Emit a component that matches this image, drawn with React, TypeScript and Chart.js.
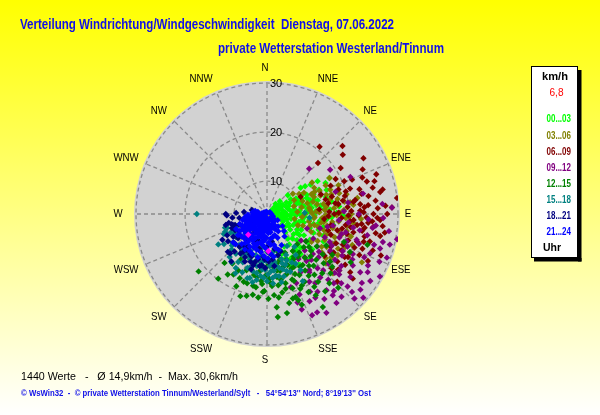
import React, { useEffect, useRef } from 'react';
import { Chart, registerables } from 'chart.js';

Chart.register(...registerables);

// ---------- texts ----------
const TITLE = 'Verteilung Windrichtung/Windgeschwindigkeit  Dienstag, 07.06.2022';
const SUBTITLE = 'private Wetterstation Westerland/Tinnum';
const FOOTER_STATS = '1440 Werte   -   Ø 14,9km/h  -  Max. 30,6km/h';
const FOOTER_COPY = "© WsWin32  -  © private Wetterstation Tinnum/Westerland/Sylt   -   54°54'13'' Nord; 8°19'13'' Ost";
const DIRECTIONS = ['N', 'NNE', 'NE', 'ENE', 'E', 'ESE', 'SE', 'SSE', 'S', 'SSW', 'SW', 'WSW', 'W', 'WNW', 'NW', 'NNW'];
const RING_TICKS = [10, 20, 30];
const SPEED_MIN = 3.3;
const SPEED_MAX = 30;
const LEGEND_UNIT = 'km/h';
const LEGEND_VALUE = '6,8';
const LEGEND_FOOT = 'Uhr';
const HOUR_LABELS = ['00...03', '03...06', '06...09', '09...12', '12...15', '15...18', '18...21', '21...24'];
const HOUR_COLORS = ['#00ff00', '#808000', '#800000', '#800080', '#008000', '#008080', '#000080', '#0000ff'];
const MARK_COLOR = '#ff00ff';
// small horizontal nudges of the compass labels (style only)
const LABEL_DX = [-2, 5, 0, -1, -5, -1, 0, 5, -2, -10, -5, -6, -3, -6, -5, -10];

// ---------- data: [direction in degrees, speed in km/h] ----------
const hours00_03 = [
  [55, 6], [60, 7], [65, 5.5], [70, 8], [75, 6.5], [80, 9], [85, 7], [90, 10], [95, 8], [100, 9], [105, 7.5], [110, 10],
  [62, 10], [68, 12], [72, 9.5], [78, 11], [82, 12.5], [88, 11.5], [92, 13], [98, 12], [103, 11], [108, 12.5], [115, 11],
  [120, 12], [125, 13.5], [130, 12], [135, 13], [140, 14], [145, 12.5], [150, 13.5], [155, 15], [148, 15.5], [138, 16],
  [128, 15], [118, 14], [56, 14], [60, 18], [52, 12], [48, 9], [45, 7], [40, 6], [65, 15], [75, 14], [85, 15], [95, 15.5],
  [100, 14], [58, 9], [64, 8.5], [74, 10.5], [84, 10], [94, 11], [104, 10], [114, 8], [124, 9], [134, 10.5], [144, 11],
  [160, 12], [50, 4.5], [70, 4.5], [90, 5], [110, 5.5], [130, 7], [80, 13.5], [88, 8.5], [96, 6], [72, 12.5], [66, 11],
  [102, 13], [112, 13.5], [122, 10.5], [153, 13.7], [121, 13.5], [147, 15.7],
  [58, 5.2], [63, 6.3], [67, 7.4], [71, 5.8], [76, 7.7], [79, 5.1], [83, 8.2], [86, 6.4], [91, 7.3], [93, 9.2], [97, 7.1],
  [99, 10.6], [101, 8.3], [106, 9.4], [109, 6.8], [113, 9.1], [117, 10.2], [119, 8.4], [123, 11.2], [127, 10.1], [131, 11.4],
  [137, 12.1], [141, 12.8], [146, 13.9], [151, 14.6], [157, 13.1], [61, 11.3], [69, 10.2], [77, 12.2], [81, 14.4], [86, 16.2],
  [89, 17.5], [91, 18.8], [84, 18.1], [79, 16.7], [74, 15.8], [68, 16.4], [62, 16.8], [57, 15.6], [54, 12.9], [93, 16.5],
  [97, 14.2], [103, 15.1], [107, 14.3], [111, 15.6], [116, 16.1], [99, 16.9], [87, 13.2], [83, 11.6], [73, 13.3], [67, 13.6],
  [64, 12.3], [59, 7.9], [52, 6.6], [47, 5.4], [85, 5.6], [95, 6.7], [105, 6.1], [115, 6.9], [125, 7.8], [135, 8.6],
  [140, 9.9], [152, 10.8], [158, 11.7],
];
const hours03_06 = [
  [60, 12], [65, 14], [70, 11], [72, 16], [75, 13], [78, 18], [80, 15], [82, 12], [85, 17], [87, 19], [88, 14], [90, 11],
  [92, 16], [94, 13], [96, 18], [98, 15], [100, 12], [102, 17], [104, 14], [106, 19], [108, 11], [110, 16], [112, 13],
  [115, 18], [118, 15], [120, 20], [55, 14.5], [60, 18], [66, 15], [76, 20], [84, 21], [90, 20.5], [96, 21], [74, 9],
  [86, 9.5], [100, 9], [110, 10], [63, 9.5], [68, 19], [80, 22], [93, 22.5], [113, 18.4], [117, 25], [125, 17], [130, 19],
  [122, 14], [70, 13.5], [79, 10.5], [89, 12.5], [99, 14.5], [107, 16.5], [83, 15.5], [91, 17.5], [95, 10.5], [73, 17],
  [58, 11], [52, 10], [128, 22], [105, 21], [115, 22],
  [71, 14.8], [74, 18.6], [77, 16.4], [79, 13.7], [81, 19.3], [83, 17.8], [86, 15.1], [87, 13.4], [89, 18.2], [91, 15.3],
  [93, 19.4], [94, 14.6], [97, 16.7], [98, 19.8], [101, 15.8], [103, 13.2], [104, 18.6], [106, 15.4], [109, 17.9],
  [111, 14.7], [113, 20.6], [114, 16.2], [116, 19.4], [119, 17.2], [121, 16.3], [124, 19.1], [127, 18.3], [132, 21.4],
  [69, 17.1], [66, 13.2], [64, 16.6], [61, 14.3], [75, 11.8], [85, 12.1], [95, 12.9], [105, 12.4], [92, 20.1], [82, 20.4],
  [102, 19.9], [110, 21.8],
];
const hours06_09 = [
  [38, 20.7], [52, 22.9], [45, 18], [48, 24], [58, 21], [60, 26], [63, 19], [65, 24.8], [68, 22], [70, 27], [72, 24.7],
  [74, 20], [76, 25.5], [78, 23], [79, 26.8], [80, 19], [81, 21.5], [83, 30], [84, 22.4], [85, 24], [86, 27.5], [87, 28.8],
  [88, 20.5], [89, 23], [90, 25], [91, 22], [92, 25.8], [93, 18.5], [94, 21], [95, 24], [96, 27], [97, 21.8], [98, 19.5],
  [99, 27.6], [100, 23], [101, 26.8], [102, 21.3], [103, 18], [105, 25], [107, 22.5], [110, 24], [112, 20], [115, 26],
  [118, 22], [120, 19], [123, 22.3], [125, 24], [127, 25.2], [130, 20.5], [134, 23.2], [63, 11], [70, 15], [75, 17],
  [80, 16], [85, 14], [90, 17], [95, 15], [100, 16.5], [108, 17], [82, 18], [88, 16], [73, 21], [66, 17.5], [110, 28],
  [67, 20.4], [69, 24.1], [71, 18.7], [73, 26.2], [75, 22.8], [77, 19.6], [78, 27.4], [80, 24.3], [82, 21.1], [83, 25.6],
  [85, 19.8], [86, 23.2], [87, 25.9], [88, 22.3], [90, 27.8], [91, 19.9], [92, 23.6], [93, 26.4], [94, 24.8], [95, 20.3],
  [96, 22.7], [97, 25.1], [98, 23.4], [99, 20.6], [100, 25.8], [101, 18.9], [103, 23.7], [104, 20.1], [106, 23.8],
  [108, 20.7], [109, 26.1], [111, 22.4], [113, 18.6], [114, 23.9], [116, 20.2], [117, 17.9], [119, 21.4], [121, 18.3],
  [124, 20.6], [126, 17.8], [128, 21.7], [81, 17.4], [89, 17.9], [76, 15.6], [92, 15.8], [105, 16.2],
];
const hours09_12 = [
  [43, 15.9], [55, 19], [66, 21.9], [72, 18], [78, 23.3], [82, 20], [85, 26.9], [87, 28.8], [90, 22], [93, 24], [96, 20],
  [97.5, 25], [100, 22.5], [101, 30.3], [103.6, 27.6], [105, 19], [108, 23], [110, 29.3], [112, 21], [114, 25], [116, 18],
  [118, 23], [120, 27], [122, 25.7], [124, 20], [126, 27.2], [128, 12.1], [128, 22], [130, 17], [131, 29.3], [132.5, 26.8],
  [133, 24], [135, 19.5], [137, 21.6], [139, 15], [140, 15.8], [141, 24.6], [142, 23], [144, 18], [145, 20.5], [147, 22.2],
  [150, 17], [153, 25.8], [156, 25.9], [158, 21], [162, 19], [123, 15.5], [118, 14], [112, 16], [105, 14.5], [100, 17],
  [95, 18], [88, 19], [125, 13], [134, 14], [145, 14.5], [110, 12], [116, 20.5], [130, 22.5], [138, 26], [150, 23],
  [160, 24], [106, 26], [92, 27],
  [96, 25.6], [98, 28.4], [99, 21.1], [102, 24.2], [103, 19.8], [104, 29.1], [106, 22.3], [107, 27.4], [109, 20.4],
  [111, 25.8], [113, 28.2], [115, 22.6], [117, 26.4], [119, 20.8], [119, 29.6], [121, 23.7], [123, 28.4], [125, 21.8],
  [127, 24.6], [129, 19.4], [129, 27.8], [131, 21.6], [132, 25.4], [134, 28.1], [136, 22.9], [137, 18.4], [139, 24.1],
  [140, 20.2], [142, 26.3], [143, 17.6], [146, 24.2], [148, 19.6], [149, 26.8], [151, 21.4], [154, 23.1], [157, 18.6],
  [161, 22.4], [126, 16.4], [120, 18.2], [114, 17.3], [108, 18.8], [102, 15.9], [131, 15.7], [136, 16.3],
];
const hours12_15 = [
  [107, 24.7], [114.6, 21.9], [118, 17], [122, 19], [127, 19.4], [130, 15], [133, 21], [136, 24.2], [138, 17.5], [140, 13.5],
  [142, 19], [145, 16], [147, 21], [149, 25.4], [150, 14], [152, 17.4], [152, 21.3], [154, 19.5], [156, 15.5], [158, 18],
  [160, 22], [161, 21.2], [162, 16.2], [163, 21.3], [164, 13], [166, 19], [168, 17], [168.6, 23.9], [170, 15], [172, 20.5],
  [174, 22.4], [174, 24.4], [176, 18], [178, 16.5], [180, 14], [182, 19], [183, 19.2], [185, 17], [187, 15], [188.6, 18.4],
  [190, 20], [192, 16], [194, 20.5], [196, 18], [198, 20.9], [200, 15.5], [203, 17.5], [207, 16.2], [210, 14], [213, 18],
  [217, 19.8], [221, 16.5], [230, 21.5], [125, 13], [135, 12], [145, 12.5], [155, 12], [165, 11], [148, 16], [158, 14.5],
  [168, 13.5], [178, 12.5], [146, 18.5], [156, 20], [166, 22], [171, 18], [143, 23], [133, 17], [120, 23], [110, 20],
  [123, 15.4], [126, 17.3], [128, 14.2], [131, 18.6], [132, 13.4], [134, 15.7], [137, 19.8], [139, 15.1], [141, 16.9],
  [143, 20.6], [144, 14.1], [146, 17.2], [148, 13.6], [151, 19.1], [153, 15.4], [155, 16.8], [157, 13.4], [159, 17.6],
  [161, 19.3], [163, 14.6], [165, 17.9], [167, 15.2], [169, 19.6], [171, 16.3], [173, 14.2], [175, 19.9], [177, 17.4],
  [179, 20.6], [181, 15.8], [184, 17.6], [186, 20.4], [189, 16.3], [191, 18.2], [195, 15.2], [199, 17.9], [203, 19.3],
  [209, 17.4], [215, 15.6], [149, 22.6], [159, 23.1], [138, 22.3], [129, 20.4],
];
const hours15_18 = [
  [270, 17.6], [252, 12.3], [251, 11.9], [248, 10], [245, 13], [240, 11], [235, 14], [230, 12.5], [226, 10], [221, 14.9],
  [219, 12], [216, 15.5], [212, 13], [210, 16], [206.6, 14.3], [204, 11.5], [200, 15], [197, 17], [195, 16.8], [193, 13],
  [190, 15.5], [188, 12], [186, 16], [184, 14], [182, 14.7], [180, 17], [178, 12.5], [176, 15], [174, 13.5], [172, 16],
  [170, 14], [168, 17.5], [166, 12], [164, 15], [162, 13], [160, 14.3], [158, 16], [155, 12.5], [152, 18.8], [150, 15],
  [148, 11], [145, 13.5], [140, 12], [88, 11], [95, 12], [200, 9.5], [190, 10.5], [180, 11], [185, 13], [195, 12],
  [205, 12.5], [215, 11], [225, 13.5], [238, 15], [175, 17.5], [165, 16.5], [192, 17.5], [170, 11], [208, 17],
  [161, 15.6], [163, 13.8], [167, 14.6], [169, 16.2], [171, 13.2], [173, 14.9], [175, 16.4], [177, 13.9], [179, 15.6],
  [181, 12.9], [183, 16.3], [185, 14.6], [187, 13.3], [189, 16.9], [191, 14.1], [194, 15.3], [196, 13.6], [198, 14.8],
  [201, 13.1], [203, 16.2], [207, 12.6], [211, 14.7], [214, 12.4], [218, 13.6], [222, 11.8], [228, 12.9], [233, 11.2],
  [243, 11.6], [247, 12.6], [157, 13.6], [153, 14.4], [149, 16.6],
];
const hours18_21 = [
  [285, 6.5], [270, 11.7], [268, 11.5], [262, 9], [258, 8], [255, 12], [252, 10.6], [251, 10.2], [248, 11], [245, 9],
  [242, 12.5], [238, 10], [235, 13], [230, 11], [226, 14.4], [223, 14.3], [220, 12], [217, 15.4], [214, 13], [210, 11],
  [209, 11.7], [205, 14], [200, 12.5], [198, 9], [196, 15], [194, 13.4], [190, 11], [188, 14], [185, 12], [182, 14.3],
  [180, 10], [178, 13], [175, 11.5], [172, 14], [189, 6], [200, 7.5], [215, 8], [230, 7], [245, 7], [260, 6], [275, 8],
  [220, 10], [205, 9.5], [193, 10.5], [185, 8.5], [170, 9], [165, 12], [240, 13.8],
  [183, 12.6], [186, 13.8], [191, 12.7], [195, 14.1], [199, 13.6], [203, 12.2], [207, 13.2], [212, 12.4], [216, 11.3],
  [221, 13.4], [228, 12.2], [233, 10.4], [236, 11.6], [243, 10.6], [249, 9.4], [254, 10.8], [257, 11.3], [264, 10.4],
  [272, 9.6], [177, 11.2], [173, 12.6], [168, 10.6], [160, 11.4],
];
const hours21_24 = [
  [140, 5.2], [152, 6.8], [160, 4.6], [165, 8.1], [170, 5.9], [173, 9.6], [176, 7.2], [178, 4.3], [181, 10.4], [183, 6.1],
  [185, 8.7], [187, 5.3], [189, 11.2], [191, 7.6], [193, 9.3], [195, 4.9], [197, 6.6], [199, 10.1], [201, 8.2], [203, 5.7],
  [205, 11.6], [207, 7.1], [209, 9.0], [211, 6.3], [213, 4.5], [215, 8.5], [217, 10.7], [219, 7.4], [221, 5.8], [223, 9.4],
  [225, 6.9], [227, 8.1], [229, 10.2], [231, 5.1], [233, 7.7], [235, 9.1], [237, 6.2], [239, 8.6], [241, 4.7], [243, 7.3],
  [245, 8.9], [247, 5.9], [249, 6.8], [252, 7.9], [255, 5.4], [258, 6.6], [262, 4.8], [266, 6.1], [270, 5.5], [275, 4.4],
  [282, 5.2], [290, 4.1], [300, 3.9], [320, 3.7], [345, 3.8], [20, 3.6], [60, 4.0], [90, 4.2], [110, 4.6], [120, 5.8],
  [128, 7.3], [135, 8.2], [142, 9.1], [147, 7.5], [155, 10.3], [158, 6.1], [162, 11.0], [167, 9.8], [171, 12.1], [175, 11.4],
  [179, 12.4], [184, 11.9], [188, 9.7], [192, 12.3], [196, 10.9], [200, 12.0], [204, 9.9], [208, 10.8], [212, 11.8],
  [216, 9.6], [220, 11.3], [226, 12.2], [230, 12.3], [234, 10.6], [238, 9.8], [244, 10.3], [250, 9.2], [256, 8.4],
  [262, 7.8], [268, 7.2], [276, 6.3], [285, 5.8], [150, 4.4], [185, 4.1], [215, 3.9], [245, 4.2], [200, 5.0], [230, 5.3],
  [175, 5.5], [160, 7.9], [190, 6.9], [210, 7.8], [240, 6.0], [225, 8.7],
  [152, 5.6], [156, 8.6], [163, 6.4], [166, 10.4], [169, 7.1], [172, 8.4], [174, 6.6], [177, 9.2], [180, 5.2], [182, 8.1],
  [184, 10.1], [186, 6.7], [188, 7.9], [190, 9.1], [192, 5.8], [194, 8.2], [196, 7.3], [198, 9.6], [200, 6.4], [202, 10.6],
  [204, 7.6], [206, 8.8], [208, 5.4], [210, 9.4], [212, 7.2], [214, 10.2], [216, 6.1], [218, 8.9], [220, 7.0], [222, 10.1],
  [224, 5.5], [226, 7.6], [228, 9.2], [230, 6.5], [232, 8.4], [234, 5.8], [236, 7.1], [238, 9.0], [240, 7.8], [242, 5.6],
  [244, 8.1], [246, 6.4], [248, 7.4], [250, 5.1], [253, 6.9], [257, 7.2], [260, 5.6], [264, 4.9], [168, 4.8], [198, 4.4],
  [228, 4.6], [258, 4.2], [145, 6.2], [138, 6.7], [132, 5.4], [124, 4.9],
];
const markedValues = [[222, 9.0], [178, 10.9]];

const HOUR_SERIES = [hours00_03, hours03_06, hours06_09, hours09_12, hours12_15, hours15_18, hours18_21, hours21_24];

const toXY = (pairs: number[][]) =>
  pairs.map(([d, v]) => {
    const r = Math.max(0, v - SPEED_MIN);
    const a = (d * Math.PI) / 180;
    return { x: r * Math.sin(a), y: r * Math.cos(a) };
  });

function drawFit(ctx: CanvasRenderingContext2D, text: string, x: number, y: number, w: number, font: string, color: string, align = 'left') {
  ctx.save();
  ctx.font = font;
  ctx.fillStyle = color;
  ctx.textBaseline = 'middle';
  ctx.textAlign = 'left';
  const nat = ctx.measureText(text).width;
  const s = w / nat;
  let left = x;
  if (align === 'center') left = x - w / 2;
  if (align === 'right') left = x - w;
  ctx.translate(left, y);
  ctx.scale(s, 1);
  ctx.fillText(text, 0, 0);
  ctx.restore();
}

function drawScaled(ctx: CanvasRenderingContext2D, text: string, x: number, y: number, font: string, color: string, hs: number) {
  ctx.save();
  ctx.font = font;
  ctx.fillStyle = color;
  ctx.textBaseline = 'middle';
  ctx.textAlign = 'center';
  ctx.translate(x, y);
  ctx.scale(hs, 1);
  ctx.fillText(text, 0, 0);
  ctx.restore();
}

const backdropPlugin = {
  id: 'backdrop',
  beforeDraw(chart: any) {
    const ctx: CanvasRenderingContext2D = chart.ctx;
    const W = chart.width;
    const H = chart.height;
    const xs = chart.scales.x;
    const ys = chart.scales.y;
    ctx.save();
    const g = ctx.createLinearGradient(0, 0, 0, H);
    g.addColorStop(0, '#ffff00');
    g.addColorStop(1, '#ffffff');
    ctx.fillStyle = g;
    ctx.fillRect(0, 0, W, H);

    const cx = xs.getPixelForValue(0);
    const cy = ys.getPixelForValue(0);
    const rad = (v: number) => xs.getPixelForValue(v - SPEED_MIN) - cx;
    const rOuter = rad(SPEED_MAX);

    // disk
    ctx.beginPath();
    ctx.arc(cx, cy, rOuter + 2, 0, Math.PI * 2);
    ctx.fillStyle = '#d2d2d2';
    ctx.fill();

    // grid
    ctx.strokeStyle = '#8a8a8a';
    ctx.lineWidth = 1.3;
    ctx.setLineDash([4, 3]);
    RING_TICKS.forEach((t) => {
      ctx.beginPath();
      ctx.arc(cx, cy, rad(t), 0, Math.PI * 2);
      ctx.stroke();
    });
    DIRECTIONS.forEach((_, i) => {
      const a = (i * 22.5 * Math.PI) / 180;
      ctx.beginPath();
      ctx.moveTo(cx, cy);
      ctx.lineTo(cx + rOuter * Math.sin(a), cy - rOuter * Math.cos(a));
      ctx.stroke();
    });
    ctx.setLineDash([]);

    // ring labels
    RING_TICKS.forEach((t) => {
      ctx.font = '11px "Liberation Sans", Arial, sans-serif';
      ctx.fillStyle = '#000';
      ctx.textAlign = 'left';
      ctx.textBaseline = 'middle';
      ctx.fillText(String(t), cx + 3, cy - rad(t) + 0.5);
    });

    // direction labels
    DIRECTIONS.forEach((d, i) => {
      const a = (i * 22.5 * Math.PI) / 180;
      const rl = rOuter + 15;
      drawScaled(ctx, d, cx + rl * Math.sin(a) + LABEL_DX[i], cy - rl * Math.cos(a), '11px "Liberation Sans", Arial, sans-serif', '#000', 0.88);
    });

    // titles
    const tf = 'bold 14px "Liberation Sans", Arial, sans-serif';
    drawFit(ctx, TITLE, 20, 25, 374, tf, '#1010e8');
    drawFit(ctx, SUBTITLE, 218, 49, 226, tf, '#1010e8');

    // footer
    drawFit(ctx, FOOTER_STATS, 21, 377, 217, '11px "Liberation Sans", Arial, sans-serif', '#000');
    drawFit(ctx, FOOTER_COPY, 21, 394, 350, 'bold 9px "Liberation Sans", Arial, sans-serif', '#1010e8');

    // legend box
    ctx.fillStyle = '#000';
    ctx.fillRect(578, 70, 3.5, 191.5);
    ctx.fillRect(534, 258, 47.5, 3.5);
    ctx.fillStyle = '#fff';
    ctx.fillRect(531.5, 66.5, 46, 191);
    ctx.strokeStyle = '#000';
    ctx.lineWidth = 1;
    ctx.strokeRect(531.5, 66.5, 46, 191);
    const lf = 'bold 11.5px "Liberation Sans", Arial, sans-serif';
    drawFit(ctx, LEGEND_UNIT, 555, 76.5, 26, lf, '#000', 'center');
    drawFit(ctx, LEGEND_VALUE, 563.5, 92.5, 14, '11px "Liberation Sans", Arial, sans-serif', '#ff0000', 'right');
    HOUR_LABELS.forEach((l, i) => {
      drawFit(ctx, l, 546.5, 119.3 + i * 16.05, 24.5, lf, HOUR_COLORS[i]);
    });
    drawFit(ctx, LEGEND_FOOT, 552, 247.7, 18, lf, '#000', 'center');
    ctx.restore();
  },
};

export default function App() {
  const ref = useRef<HTMLCanvasElement | null>(null);
  useEffect(() => {
    document.body.style.margin = '0';
    if (!ref.current) return;
    const RMAX = SPEED_MAX - SPEED_MIN;
    const datasets: any[] = HOUR_SERIES.map((s, i) => ({
      label: HOUR_LABELS[i],
      data: toXY(s),
      backgroundColor: HOUR_COLORS[i],
      borderWidth: 0,
      pointStyle: 'rectRot',
      pointRadius: 3.2,
      pointHoverRadius: 3.2,
      order: 8 - i,
    }));
    datasets.push({
      label: 'mark',
      data: toXY(markedValues),
      backgroundColor: MARK_COLOR,
      borderWidth: 0,
      pointStyle: 'rectRot',
      pointRadius: 3.2,
      pointHoverRadius: 3.2,
      order: 0,
    });
    const chart = new Chart(ref.current, {
      type: 'scatter',
      data: { datasets },
      options: {
        responsive: false,
        animation: false,
        events: [],
        layout: { padding: { left: 136, right: 202, top: 83, bottom: 70 } },
        scales: {
          x: { type: 'linear', min: -RMAX, max: RMAX, display: false },
          y: { type: 'linear', min: -RMAX, max: RMAX, display: false },
        },
        plugins: { legend: { display: false }, tooltip: { enabled: false }, title: { display: false } },
      },
      plugins: [backdropPlugin],
    } as any);
    return () => chart.destroy();
  }, []);
  return (
    <div style={{ width: 600, height: 415 }}>
      <canvas ref={ref} width={600} height={415} style={{ width: 600, height: 415, display: 'block' }} />
    </div>
  );
}
